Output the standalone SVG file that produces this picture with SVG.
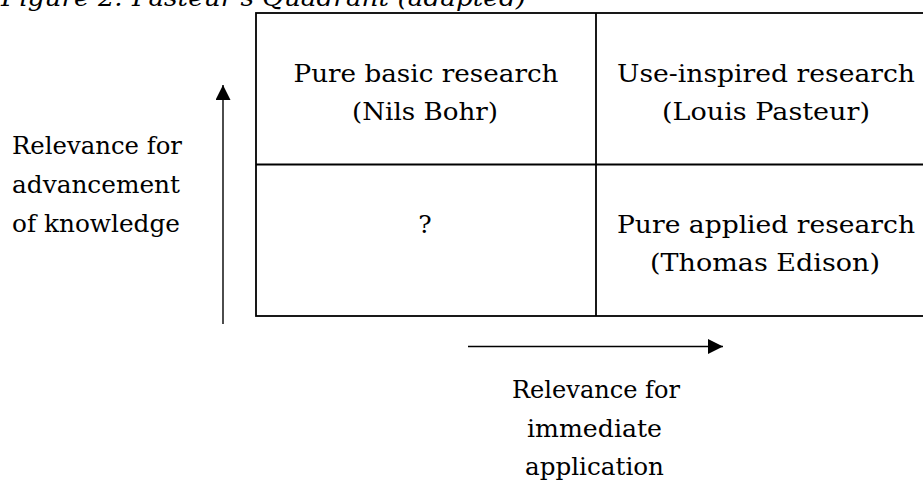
<svg xmlns="http://www.w3.org/2000/svg" width="923" height="482" viewBox="0 0 923 482">
<style>
.t{font-family:"DejaVu Serif","Liberation Serif",serif;font-size:25px;fill:#000;text-anchor:middle}
.ti{font-family:"DejaVu Serif","Liberation Serif",serif;font-style:italic;font-size:25px;fill:#000}
.ln{stroke:#000;stroke-width:1.8;fill:none}
.ar{stroke:#000;stroke-width:1.4;fill:none}
</style>
<defs>
<marker id="ah" markerUnits="userSpaceOnUse" markerWidth="15" markerHeight="15" refX="15" refY="7.5" orient="auto" viewBox="0 0 15 15"><path d="M0,0 L15,7.5 L0,15z" fill="#000"/></marker>
</defs>
<rect width="923" height="482" fill="#fff"/>
<text id="title" class="ti" x="1" y="5.5" textLength="525" lengthAdjust="spacingAndGlyphs">Figure 2: Pasteur's Quadrant (adapted)</text>
<g id="grid">
<rect class="ln" x="256" y="13" width="720" height="303"/>
<line class="ln" x1="596" y1="13" x2="596" y2="316"/>
<line class="ln" x1="256" y1="164.5" x2="923" y2="164.5"/>
</g>
<g id="q-basic">
<text class="t" x="426" y="82" textLength="265" lengthAdjust="spacingAndGlyphs">Pure basic research</text>
<text class="t" x="425" y="120" textLength="146" lengthAdjust="spacingAndGlyphs">(Nils Bohr)</text>
</g>
<g id="q-use">
<text class="t" x="766" y="82" textLength="298" lengthAdjust="spacingAndGlyphs">Use-inspired research</text>
<text class="t" x="766" y="120" textLength="208" lengthAdjust="spacingAndGlyphs">(Louis Pasteur)</text>
</g>
<g id="q-unknown">
<text class="t" x="425" y="233">?</text>
</g>
<g id="q-applied">
<text class="t" x="766" y="233" textLength="298" lengthAdjust="spacingAndGlyphs">Pure applied research</text>
<text class="t" x="765" y="271" textLength="230" lengthAdjust="spacingAndGlyphs">(Thomas Edison)</text>
</g>
<g id="label-knowledge">
<text class="t" x="97" y="154" textLength="170" lengthAdjust="spacingAndGlyphs">Relevance for</text>
<text class="t" x="96" y="193" textLength="168" lengthAdjust="spacingAndGlyphs">advancement</text>
<text class="t" x="96" y="232" textLength="168" lengthAdjust="spacingAndGlyphs">of knowledge</text>
</g>
<g id="label-application">
<text class="t" x="596" y="398" textLength="168" lengthAdjust="spacingAndGlyphs">Relevance for</text>
<text class="t" x="594.5" y="437" textLength="135" lengthAdjust="spacingAndGlyphs">immediate</text>
<text class="t" x="594.5" y="475" textLength="139" lengthAdjust="spacingAndGlyphs">application</text>
</g>
<g id="connectors">
<line class="ar" x1="223" y1="324" x2="223" y2="85" marker-end="url(#ah)"/>
<line class="ar" x1="468" y1="346.5" x2="723" y2="346.5" marker-end="url(#ah)"/>
</g>
</svg>
